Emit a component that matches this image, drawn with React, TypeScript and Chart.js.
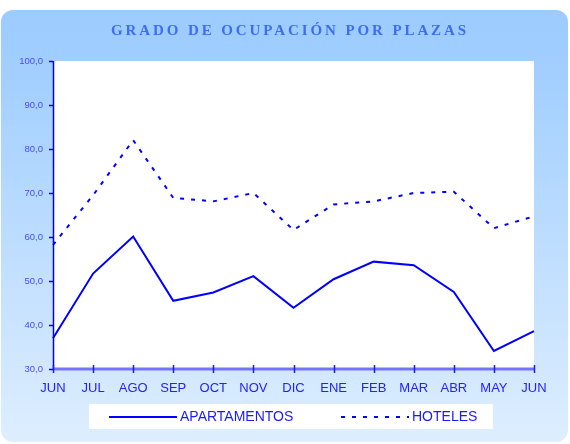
import React, { useEffect, useRef } from 'react';
import { Chart, registerables } from 'chart.js';

Chart.register(...registerables);

const chartTitle = 'GRADO DE OCUPACIÓN POR PLAZAS';
const months = ['JUN', 'JUL', 'AGO', 'SEP', 'OCT', 'NOV', 'DIC', 'ENE', 'FEB', 'MAR', 'ABR', 'MAY', 'JUN'];
const apartamentos = [37.0, 51.7, 60.1, 45.5, 47.4, 51.1, 43.9, 50.4, 54.4, 53.6, 47.5, 34.1, 38.6];
const hoteles = [58.2, 69.5, 82.0, 68.9, 68.1, 70.0, 61.6, 67.4, 68.1, 70.0, 70.3, 62.0, 64.7];
const seriesLabels = ['APARTAMENTOS', 'HOTELES'];
const yMin = 30;
const yMax = 100;
const yStep = 10;

const W = 570;
const H = 444;

const framePlugin = {
  id: 'frame',
  beforeDraw(chart: any) {
    const ctx = chart.ctx;
    const ca = chart.chartArea;
    ctx.save();
    ctx.clearRect(0, 0, W, H);
    const g = ctx.createLinearGradient(0, 10, 0, 442);
    g.addColorStop(0, '#9ccbff');
    g.addColorStop(0.15, '#a2cfff');
    g.addColorStop(1, '#deeeff');
    ctx.fillStyle = g;
    ctx.beginPath();
    ctx.roundRect(1, 10, 567, 432, 12);
    ctx.fill();
    ctx.fillStyle = '#ffffff';
    ctx.fillRect(ca.left, ca.top, ca.right - ca.left, ca.bottom - ca.top);
    ctx.restore();
  },
  afterDraw(chart: any) {
    const ctx = chart.ctx;
    const ca = chart.chartArea;
    const xs = chart.scales.x;
    const ys = chart.scales.y;
    ctx.save();
    // y axis ticks
    ctx.strokeStyle = '#0000ff';
    ctx.lineWidth = 1.5;
    ys.ticks.forEach((t: any, i: number) => {
      const y = Math.round(ys.getPixelForTick(i)) + 0.5;
      ctx.beginPath();
      ctx.moveTo(ca.left - 4, y);
      ctx.lineTo(ca.left, y);
      ctx.stroke();
    });
    ctx.beginPath();
    ctx.moveTo(ca.left + 0.5, ca.top);
    ctx.lineTo(ca.left + 0.5, ca.bottom);
    ctx.stroke();
    // x axis
    ctx.strokeStyle = '#7474ff';
    ctx.lineWidth = 3;
    ctx.beginPath();
    ctx.moveTo(ca.left, ca.bottom);
    ctx.lineTo(ca.right, ca.bottom);
    ctx.stroke();
    ctx.strokeStyle = '#1a1aff';
    ctx.lineWidth = 1.5;
    xs.ticks.forEach((t: any, i: number) => {
      const x = Math.round(xs.getPixelForTick(i)) + 0.5;
      ctx.beginPath();
      ctx.moveTo(x, ca.bottom - 4);
      ctx.lineTo(x, ca.bottom + 4);
      ctx.stroke();
    });
    // title
    ctx.fillStyle = '#3d6df5';
    ctx.font = 'bold 15px "Liberation Serif", "Times New Roman", serif';
    (ctx as any).letterSpacing = '2.9px';
    ctx.textAlign = 'center';
    ctx.textBaseline = 'middle';
    ctx.fillText(chartTitle, 290, 31);
    (ctx as any).letterSpacing = '0px';
    // legend
    ctx.fillStyle = '#ffffff';
    ctx.fillRect(89, 404, 404, 25);
    const ds = chart.data.datasets;
    const items = [
      { x0: 109, x1: 177, tx: 180 },
      { x0: 341, x1: 409, tx: 412 },
    ];
    ctx.font = '14px "Liberation Sans", Arial, sans-serif';
    ctx.textAlign = 'left';
    ctx.textBaseline = 'middle';
    items.forEach((it, i) => {
      const d = ds[i];
      ctx.strokeStyle = d.borderColor;
      ctx.lineWidth = 2;
      ctx.setLineDash(d.borderDash || []);
      ctx.beginPath();
      ctx.moveTo(it.x0, 417);
      ctx.lineTo(it.x1, 417);
      ctx.stroke();
      ctx.setLineDash([]);
      ctx.fillStyle = '#1a1aff';
      ctx.fillText(d.label, it.tx, 417.5);
    });
    ctx.restore();
  },
};

export default function App() {
  const ref = useRef<HTMLCanvasElement | null>(null);
  useEffect(() => {
    document.body.style.margin = '0';
    const canvas = ref.current;
    if (!canvas) return;
    const chart = new Chart(canvas, {
      type: 'line',
      data: {
        labels: months,
        datasets: [
          {
            label: seriesLabels[0],
            data: apartamentos,
            borderColor: '#0000ff',
            borderWidth: 2,
            pointRadius: 0,
            tension: 0,
            fill: false,
          },
          {
            label: seriesLabels[1],
            data: hoteles,
            borderColor: '#0000ff',
            borderWidth: 2,
            borderDash: [4, 7],
            borderCapStyle: 'butt',
            pointRadius: 0,
            tension: 0,
            fill: false,
          },
        ],
      },
      options: {
        responsive: false,
        animation: false,
        devicePixelRatio: 1,
        layout: { padding: { top: 61, right: 36, left: 0, bottom: 0 } },
        plugins: {
          legend: { display: false },
          title: { display: false },
          tooltip: { enabled: false },
        },
        scales: {
          x: {
            offset: false,
            grid: { display: false, drawTicks: false },
            border: { display: false },
            ticks: {
              color: '#2222ff',
              font: { family: '"Liberation Sans", Arial, sans-serif', size: 13 },
              padding: 12,
              maxRotation: 0,
              autoSkip: false,
            },
            afterFit: (s: any) => {
              s.height = 75;
            },
          },
          y: {
            min: yMin,
            max: yMax,
            grid: { display: false, drawTicks: false },
            border: { display: false },
            ticks: {
              stepSize: yStep,
              color: '#4a4aff',
              font: { family: '"Liberation Sans", Arial, sans-serif', size: 9.5 },
              padding: 10,
              callback: (v: any) => Number(v).toFixed(1).replace('.', ','),
            },
            afterFit: (s: any) => {
              s.width = 53;
            },
          },
        },
      },
      plugins: [framePlugin],
    });
    return () => chart.destroy();
  }, []);
  return <canvas ref={ref} width={W} height={H} style={{ display: 'block', width: W, height: H }} />;
}
